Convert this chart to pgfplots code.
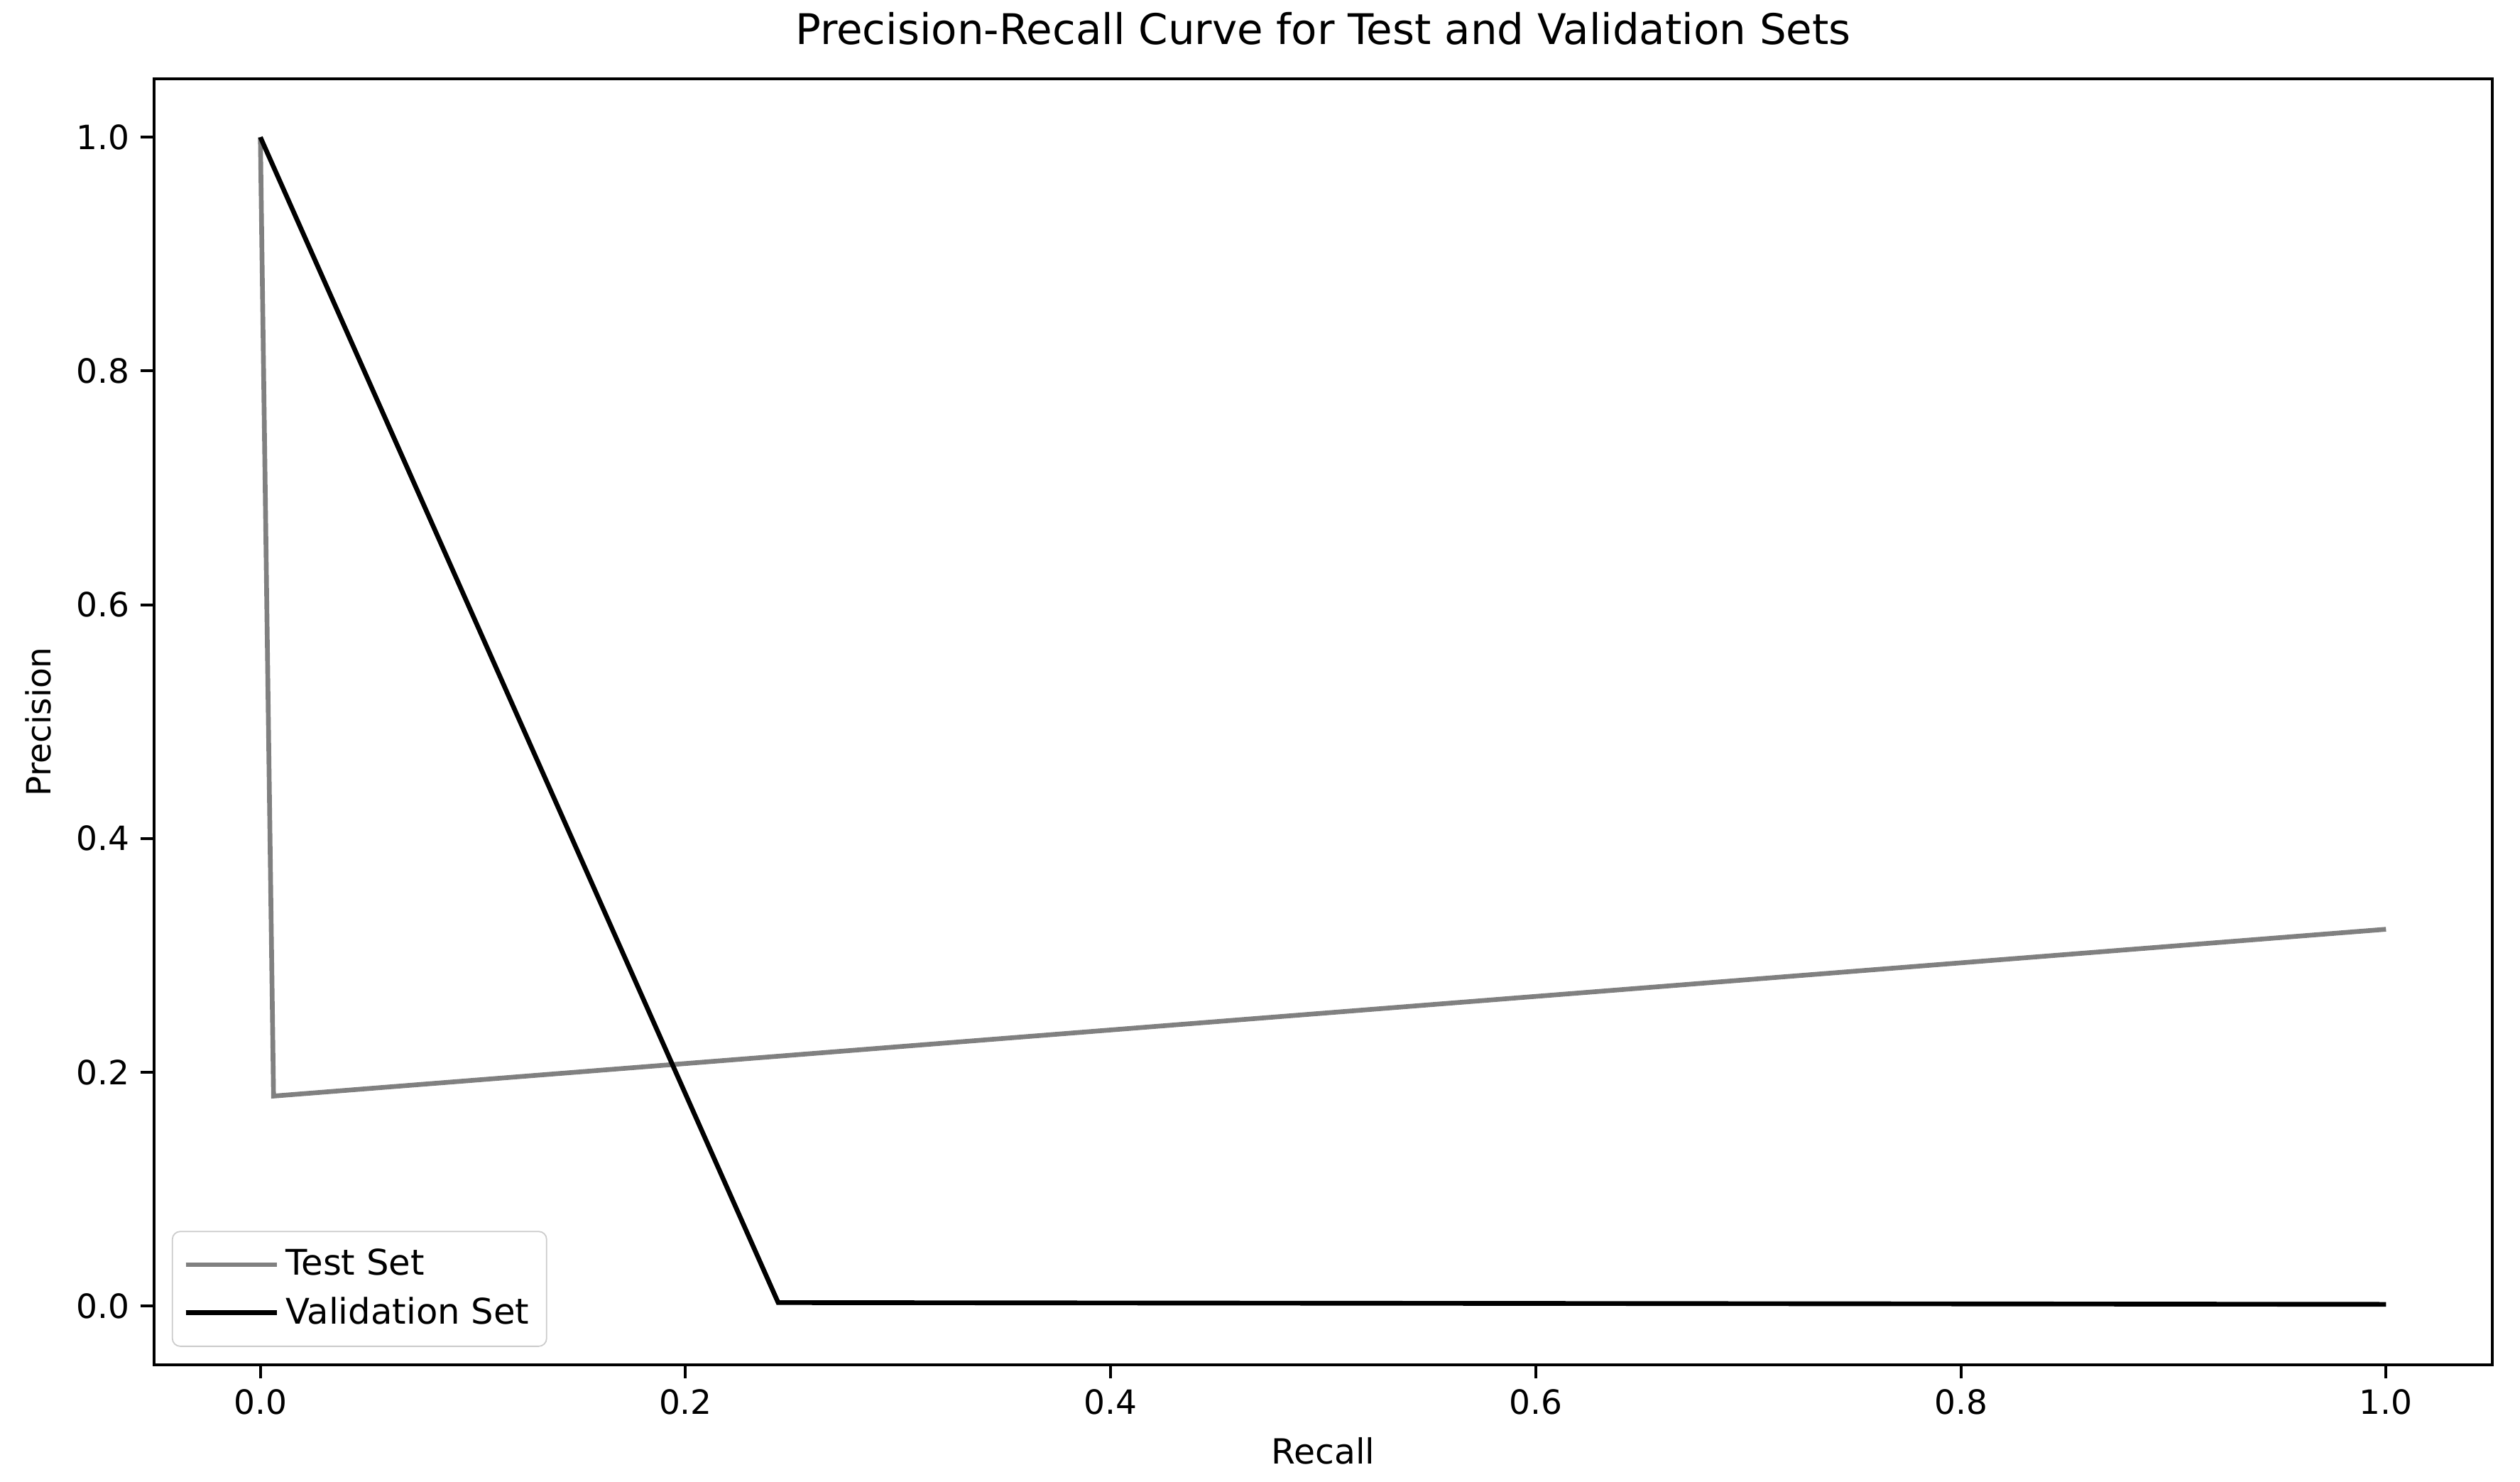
\documentclass[border=0pt]{standalone}
\usepackage{fontspec}
\setmainfont{DejaVu Sans}
\usepackage{pgfplots}
\pgfplotsset{compat=1.18}
\definecolor{testgray}{HTML}{808080}
\begin{document}
\begin{tikzpicture}
\begin{axis}[
name=ax,
width=742pt,
height=408pt,
scale only axis,
xmin=-0.05, xmax=1.05,
ymin=-0.05, ymax=1.05,
xtick={0,0.2,0.4,0.6,0.8,1.0},
ytick={0,0.2,0.4,0.6,0.8,1.0},
/pgf/number format/.cd, fixed, fixed zerofill, precision=1, assume math mode=true,
/pgfplots/.cd,
tick align=outside,
tick pos=left,
major tick length=4.3pt,
axis line style={line width=0.9pt},
every tick/.style={black, line width=0.9pt},
tick label style={font=\fontsize{10.6}{12}\selectfont},
title={Precision-Recall Curve for Test and Validation Sets},
title style={font=\fontsize{13.4}{16}\selectfont, at={(axis description cs:0.5,1.01225)}, anchor=base},
xlabel={Recall},
xlabel style={font=\fontsize{11}{12}\selectfont, at={(axis description cs:0.5,-0.0775)}, anchor=base},
ylabel={Precision},
ylabel style={font=\fontsize{10.6}{12}\selectfont, at={(axis description cs:-0.0495,0.5)}, anchor=center},
legend style={at={(axis description cs:0,0)}, anchor=south west, xshift=5.6pt, yshift=5.6pt,
  draw=black!20, rounded corners=2.5pt, fill=white, fill opacity=0.8, text opacity=1,
  inner xsep=3.5pt, inner ysep=3.6pt, row sep=1.4pt,
  font=\fontsize{11.2}{12}\selectfont, cells={anchor=west}},
legend image code/.code={\draw[#1] (0pt,0pt) -- (24pt,0pt); \path (0pt,0pt) -- (29pt,0pt);},
]
\addplot [color=testgray, line width=1.5pt] table [row sep=crcr]{
0.0    1.0\\
0.0062 0.1797\\
1.0    0.3224\\
};
\addlegendentry{Test Set}
\addplot [color=black, line width=1.5pt] table [row sep=crcr]{
0.0    1.0\\
0.2436 0.0030\\
1.0    0.0015\\
};
\addlegendentry{Validation Set}
\end{axis}
\pgfresetboundingbox
\path[use as bounding box] ([xshift=-48.9pt,yshift=-37.2pt]ax.south west) rectangle ([xshift=8.8pt,yshift=25pt]ax.north east);
\end{tikzpicture}
\end{document}
